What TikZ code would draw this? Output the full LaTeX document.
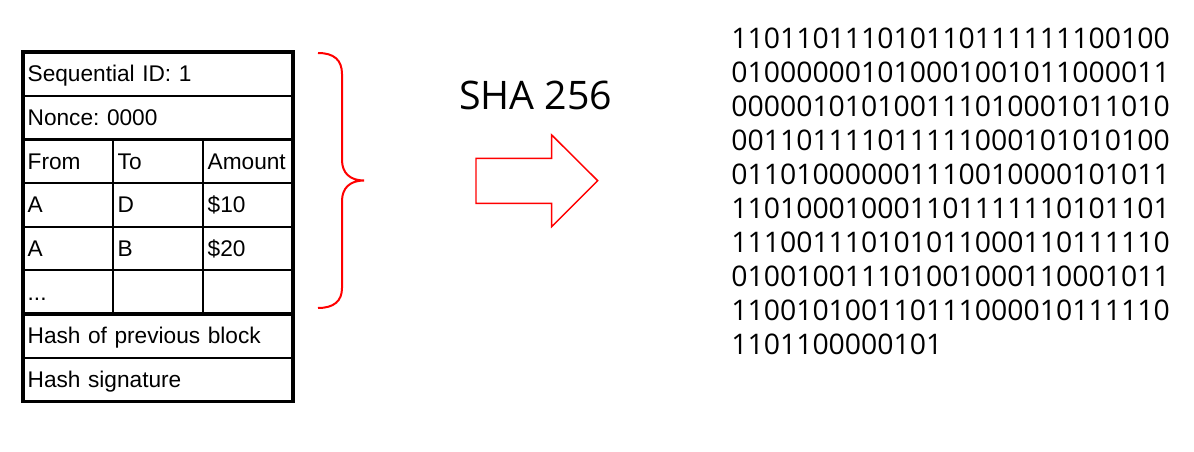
\documentclass[tikz,border=0pt]{standalone}
\usepackage{fontspec}
\newfontfamily\tablefont{Liberation Sans}
\newfontfamily\hashfont{Open Sans}
\usetikzlibrary{positioning}
\frenchspacing

\tikzset{
 blockrow/.style={draw,line width=1.7pt,outer sep=0pt,anchor=north west,minimum height=32.75pt,
  inner xsep=3.5pt,inner ysep=0pt,text width=195.5pt,align=left,text height=12pt,text depth=0pt,
  font=\tablefont\fontsize{17}{20}\selectfont},
 blockcell/.style={blockrow,text width=60.5pt},
 blockframe/.style={line width=2.3pt},
 hashred/.style={draw=red,line width=1.5pt},
}

\begin{document}
\begin{tikzpicture}[x=0.75pt,y=-0.75pt,line join=miter]

 \useasboundingbox (0,0) rectangle (1194,452);

 \node (row_0) at (23,52) [blockrow] {Sequential ID: 1};
 \node (row_1) at (row_0.south west) [blockrow] {Nonce: 0000};

 \node (cell_2_0) at (row_1.south west) [blockcell] {From};
 \node (cell_2_1) at (cell_2_0.north east) [blockcell] {To};
 \node (cell_2_2) at (cell_2_1.north east) [blockcell] {Amount};
 \node (cell_3_0) at (cell_2_0.south west) [blockcell] {A};
 \node (cell_3_1) at (cell_3_0.north east) [blockcell] {D};
 \node (cell_3_2) at (cell_3_1.north east) [blockcell] {\$10};
 \node (cell_4_0) at (cell_3_0.south west) [blockcell] {A};
 \node (cell_4_1) at (cell_4_0.north east) [blockcell] {B};
 \node (cell_4_2) at (cell_4_1.north east) [blockcell] {\$20};
 \node (cell_5_0) at (cell_4_0.south west) [blockcell] {...};
 \node (cell_5_1) at (cell_5_0.north east) [blockcell] {};
 \node (cell_5_2) at (cell_5_1.north east) [blockcell] {};

 \node (row_6) at (cell_5_0.south west) [blockrow] {Hash of previous block};
 \node (row_7) at (row_6.south west) [blockrow] {Hash signature};

  \draw [blockframe] (row_0.north west) rectangle (row_1.south east);
  \draw [blockframe] (cell_2_0.north west) rectangle (cell_5_2.south east);
  \draw [blockframe] (row_6.north west) rectangle (row_7.south east);

 \node (sha_label) at (459,110) [anchor=base west,inner sep=0pt,font=\hashfont\fontsize{29.5}{34}\selectfont] {SHA 256};

 \node (hash_out) at (731,27.3) [anchor=north west,inner sep=0pt,align=left,font=\hashfont\fontsize{21.3}{25.5}\selectfont]
  {110110111010110111111100100\\
   010000001010001001011000011\\
   000001010100111010001011010\\
   001101111011111000101010100\\
   011010000001110010000101011\\
   110100010001101111110101101\\
   111001110101011000110111110\\
   010010011101001000110001011\\
   110010100110111000010111110\\
   1101100000101};

  \draw [hashred] (318,53) .. controls (334,53) and (342,60) .. (342,74) -- (342,160)
   .. controls (342,173) and (350,180.5) .. (364,180.5)
   .. controls (350,180.5) and (342,188) .. (342,201) -- (342,288)
   .. controls (342,301) and (334,308) .. (318,308);

  \draw [hashred,line width=1.1pt] (476,158.3) -- (551.7,158.3) -- (551.7,135) -- (597.7,180.7)
   -- (551.7,226.7) -- (551.7,203.3) -- (476,203.3) -- cycle;

\end{tikzpicture}
\end{document}
